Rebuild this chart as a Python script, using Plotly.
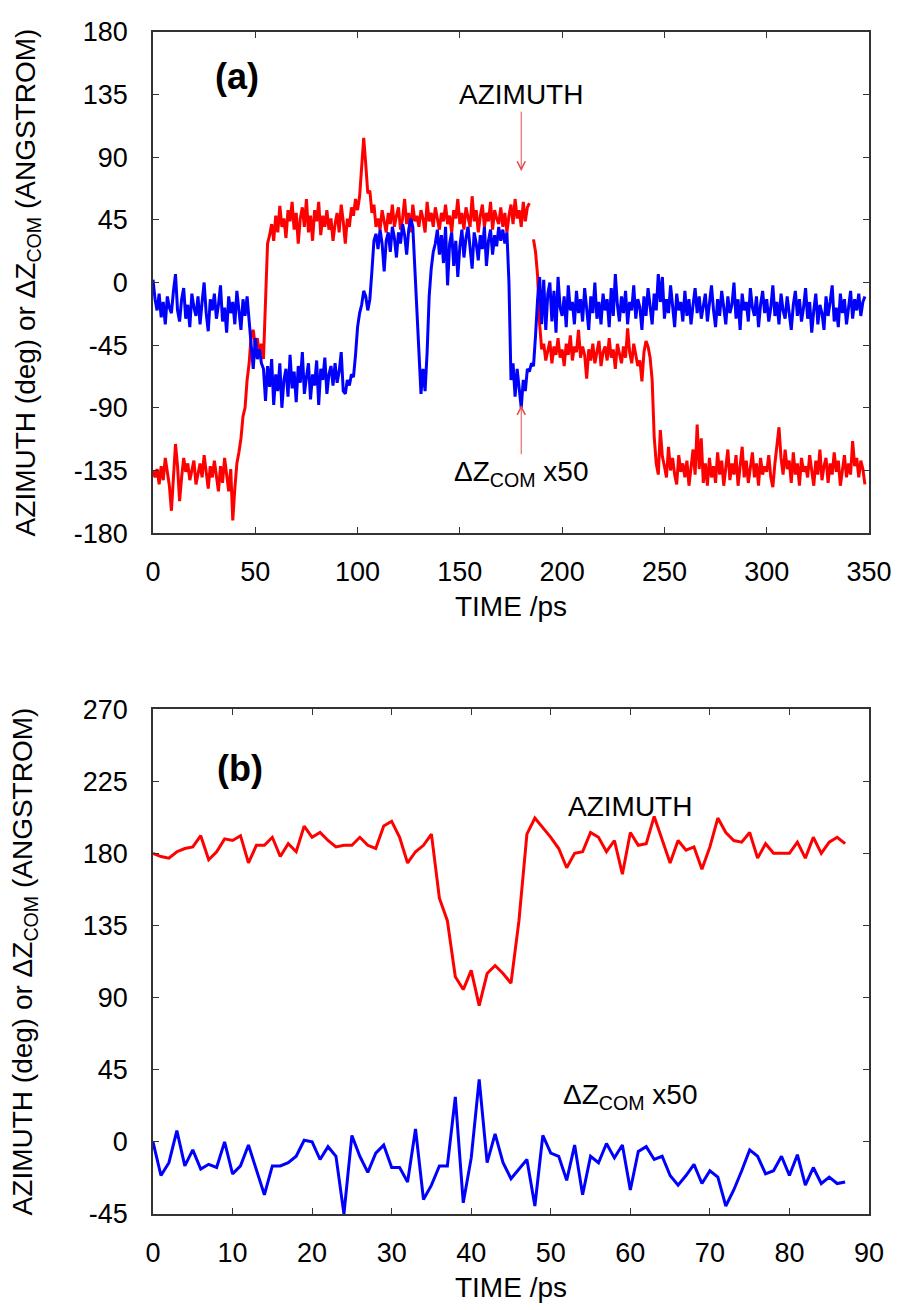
import plotly.graph_objects as go

# ---------------- Panel (a) data: time step 1 ps ----------------
time_a = list(range(0, 349))

azimuth_a = [
    -135, -140, -134, -145, -132, -142, -126, -138, -146, -164,
    -140, -116, -132, -157, -140, -126, -136, -130, -142, -134,
    -128, -145, -138, -130, -140, -124, -136, -148, -132, -140,
    -128, -138, -150, -132, -144, -126, -140, -150, -134, -171,
    -148, -130, -122, -112, -96, -90, -70, -58, -38, -34,
    -46, -40, -52, -44, -55, -20, 28, 34, 42, 30,
    48, 36, 55, 40, 46, 32, 52, 44, 58, 38,
    50, 28, 46, 54, 40, 60, 36, 48, 30, 52,
    44, 58, 34, 48, 40, 52, 38, 46, 30, 42,
    50, 36, 56, 44, 28, 46, 40, 54, 48, 60,
    52, 62, 80, 104, 85, 64, 66, 50, 56, 40,
    46, 38, 52, 44, 36, 50, 42, 56, 40, 48,
    54, 38, 46, 60, 42, 50, 36, 56, 44, 48,
    40, 52, 46, 36, 58, 44, 50, 40, 54, 46,
    38, 50, 44, 56, 42, 48, 36, 52, 46, 60,
    42, 50, 38, 54, 46, 40, 62, 44, 52, 36,
    48, 56, 40, 50, 44, 58, 38, 52, 46, 42,
    54, 40, 50, 36, 48, 56, 42, 60, 46, 52,
    40, 58, 44, 54, 57, None, 31, 22, 5, -30,
    -48, -44, -56, -50, -42, -58, -46, -52, -40, -54,
    -48, -60, -44, -52, -38, -56, -46, -50, -34, -54,
    -46, -52, -69, -48, -56, -44, -58, -50, -42, -60,
    -50, -46, -56, -40, -54, -48, -62, -44, -52, -58,
    -46, -54, -33, -50, -58, -44, -52, -60, -56, -71,
    -50, -42, -46, -54, -70, -111, -130, -138, -106, -125,
    -132, -140, -118, -135, -126, -138, -145, -124, -136, -130,
    -140, -128, -146, -132, -120, -138, -102, -134, -112, -144,
    -130, -146, -126, -140, -132, -144, -122, -138, -128, -146,
    -134, -120, -142, -130, -138, -124, -146, -132, -118, -140,
    -128, -144, -134, -122, -140, -130, -146, -126, -138, -132,
    -136, -124, -140, -147, -130, -118, -104, -126, -138, -120,
    -134, -128, -144, -122, -138, -130, -146, -126, -136, -132,
    -140, -124, -136, -146, -128, -138, -120, -142, -132, -126,
    -144, -130, -138, -122, -136, -128, -146, -134, -124, -140,
    -130, -138, -114, -132, -126, -140, -128, -134, -145,
]

dz_a = [
    2, -12, -20, -8, -25, -14, -30, -10, -18, -22,
    -6, 6, -20, -28, -12, -4, -26, -16, -32, -8,
    -18, -24, -10, -30, -14, 0, -22, -35, -12, -20,
    -8, -26, -16, -2, -28, -18, -36, -10, -22, -14,
    -30, -6, -20, -34, -12, -24, -10, -30, -45, -62,
    -40, -55, -48, -58, -62, -85, -60, -75, -55, -88,
    -66, -78, -58, -90, -70, -62, -82, -52, -76, -64,
    -86, -60, -72, -50, -80, -68, -58, -84, -66, -74,
    -56, -88, -62, -70, -54, -80, -66, -60, -74, -58,
    -72, -64, -50, -78, -80, -70, -74, -66, -68, -52,
    -32, -22, -16, -6, -10, -20, -12, 8, 30, 35,
    24, 38, 28, 8, 30, 36, 22, 40, 32, 18,
    36, 28, 42, 34, 20, 38, 46, 40, 10, -30,
    -55, -80, -62, -78, -50, -10, 10, 22, 28, 38,
    20, 34, 14, 40, -2, 28, 36, 12, 30, 4,
    26, 38, 18, 32, 40, 22, 10, 36, 28, 16,
    34, 24, 40, 12, 30, 38, 20, 34, 26, 40,
    30, 38, 28, 36, 0, -70, -58, -82, -62, -76,
    -90, -70, -78, -62, -64, -58, -60, -38, -12, 4,
    -30, 2, -34, -8, 0, -28, -6, -36, 4, -18,
    -24, -10, -32, -2, -20, -14, -30, -6, -22, -12,
    -28, -4, -18, -34, -10, -22, 0, -26, -14, -30,
    -8, -20, -12, -32, -4, -24, 6, -16, -28, -10,
    -22, -6, -30, -14, -20, -2, -26, -12, -18, -34,
    -10, -24, -4, -16, -30, -8, -20, 6, -14, 4,
    -26, -12, -22, -2, -18, -32, -8, -20, -14, -28,
    -6, -24, -12, -30, -16, -4, -22, -10, -26, -18,
    -8, -28, -14, -2, -20, -32, -12, -24, -6, -18,
    -30, -10, -22, -16, 0, -26, -12, -34, -8, -20,
    -14, -28, -4, -18, -24, -10, -32, -16, -6, -22,
    -12, -28, -18, -2, -24, -14, -30, -8, -20, -26,
    -10, -22, -34, -16, -6, -24, -12, -28, -18, -4,
    -26, -14, -36, -20, -8, -30, -16, -22, -34, -10,
    -24, -14, -2, -28, -18, -32, -8, -22, -12, -30,
    -16, -6, -26, -12, -20, -8, -24, -14, -10,
]

# ---------------- Panel (b) data: time step 1 ps ----------------
time_b = list(range(0, 88))

azimuth_b = [
    180, 178, 177, 181, 183, 184, 191, 176, 181, 189,
    188, 191, 174, 185, 185, 190, 178, 186, 181, 197,
    190, 193, 188, 184, 185, 185, 190, 185, 183, 197,
    200, 190, 174, 181, 185, 192, 152, 138, 103, 95,
    107, 85, 105, 110, 105, 99, 138, 192, 202, 196,
    190, 183, 171, 180, 181, 193, 190, 181, 188, 167,
    193, 185, 186, 203, 188, 174, 188, 182, 184, 170,
    184, 202, 193, 188, 187, 193, 177, 186, 180, 180,
    180, 187, 177, 190, 180, 187, 190, 186,
]

dz_b = [
    0, -21, -13, 7, -15, -5, -17, -14, -16, 0,
    -20, -15, -2, -17, -33, -15, -15, -13, -9, 1,
    0, -11, -3, -9, -45, 4, -9, -19, -7, -2,
    -16, -16, -25, 8, -36, -27, -15, -15, 28, -38,
    -10, 39, -13, 5, -13, -23, -17, -11, -40, 4,
    -7, -9, -24, -2, -33, -9, -13, -1, -10, -2,
    -30, -6, -3, -11, -9, -21, -27, -21, -14, -26,
    -18, -22, -40, -30, -18, -5, -9, -20, -18, -9,
    -21, -8, -27, -16, -26, -22, -26, -25,
]

xticks_a = [0, 50, 100, 150, 200, 250, 300, 350]
yticks_a = [-180, -135, -90, -45, 0, 45, 90, 135, 180]
xticks_b = [0, 10, 20, 30, 40, 50, 60, 70, 80, 90]
yticks_b = [-45, 0, 45, 90, 135, 180, 225, 270]

RED = "#ff0000"
BLUE = "#0000ff"
FONT = "Liberation Sans, Arial, sans-serif"
YTITLE = "AZIMUTH (deg) or \u0394Z<sub>COM</sub> (ANGSTROM)"
DZLABEL = "\u0394Z<sub>COM</sub> x50"


def labels(vals):
    return [str(v) for v in vals]  # plain hyphen-minus like the original


fig = go.Figure()
fig.add_trace(go.Scatter(x=time_a, y=azimuth_a, mode="lines", line=dict(color=RED, width=3),
                         xaxis="x", yaxis="y", showlegend=False, connectgaps=False))
fig.add_trace(go.Scatter(x=time_a, y=dz_a, mode="lines", line=dict(color=BLUE, width=3),
                         xaxis="x", yaxis="y", showlegend=False))
fig.add_trace(go.Scatter(x=time_b, y=azimuth_b, mode="lines", line=dict(color=RED, width=3),
                         xaxis="x2", yaxis="y2", showlegend=False))
fig.add_trace(go.Scatter(x=time_b, y=dz_b, mode="lines", line=dict(color=BLUE, width=3),
                         xaxis="x2", yaxis="y2", showlegend=False))

axis_common = dict(showline=True, mirror="ticks", linecolor="#333333", linewidth=1.5,
                   ticks="inside", ticklen=6, tickwidth=1.2, tickcolor="#333333",
                   showgrid=False, zeroline=False, tickfont=dict(size=27, color="black"))

fig.update_layout(
    width=904, height=1310,
    margin=dict(l=153, r=32, t=32, b=89),
    paper_bgcolor="white", plot_bgcolor="white",
    font=dict(family=FONT, color="black", size=27),
    xaxis=dict(domain=[0, 1], range=[0, 350], tickvals=xticks_a, ticktext=labels(xticks_a),
               anchor="y", title=dict(text="TIME /ps", font=dict(size=28), standoff=10),
               ticklabelstandoff=14, **axis_common),
    yaxis=dict(domain=[0.5761, 1], range=[-180, 180], tickvals=yticks_a, ticktext=labels(yticks_a),
               anchor="x", title=dict(text=YTITLE, font=dict(size=28), standoff=30),
               ticklabelstandoff=18, **axis_common),
    xaxis2=dict(domain=[0, 1], range=[0, 90], tickvals=xticks_b, ticktext=labels(xticks_b),
                anchor="y2", title=dict(text="TIME /ps", font=dict(size=28), standoff=10),
                ticklabelstandoff=14, **axis_common),
    yaxis2=dict(domain=[0, 0.4272], range=[-45, 270], tickvals=yticks_b, ticktext=labels(yticks_b),
                anchor="x2", title=dict(text=YTITLE, font=dict(size=28), standoff=42),
                ticklabelstandoff=18, **axis_common),
)

ann = []
ann.append(dict(x=41, y=148, xref="x", yref="y", text="<b>(a)</b>", showarrow=False,
                font=dict(size=36)))
# labels with thin red arrows pointing at the curves
ann.append(dict(x=180, y=80, ax=180, ay=135, xref="x", yref="y", axref="x", ayref="y",
                text="AZIMUTH", font=dict(size=28), showarrow=True, arrowhead=5,
                arrowsize=1.6, arrowwidth=1, arrowcolor="#e05050"))
ann.append(dict(x=180, y=-88, ax=180, ay=-137, xref="x", yref="y", axref="x", ayref="y",
                text=DZLABEL, font=dict(size=28), showarrow=True, arrowhead=5,
                arrowsize=1.6, arrowwidth=1, arrowcolor="#e05050"))
ann.append(dict(x=10.9, y=233, xref="x2", yref="y2", text="<b>(b)</b>", showarrow=False,
                font=dict(size=36)))
ann.append(dict(x=60, y=209, xref="x2", yref="y2", text="AZIMUTH", showarrow=False,
                font=dict(size=28)))
ann.append(dict(x=60, y=28, xref="x2", yref="y2", text=DZLABEL, showarrow=False,
                font=dict(size=28)))
fig.update_layout(annotations=ann)

fig.write_html("out.html")
